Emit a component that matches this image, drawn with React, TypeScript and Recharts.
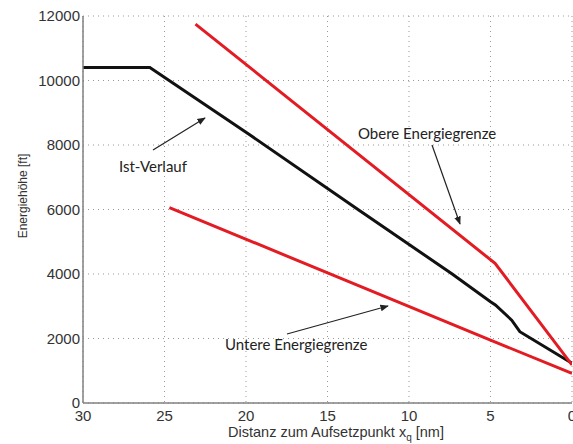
import React from 'react';
import { LineChart, Line, XAxis, YAxis, CartesianGrid } from 'recharts';

// Ist-Verlauf (black)
const istX = [30, 25.9, 19.75, 13.13, 7.35, 5.0, 4.7, 3.7, 3.2, 0];
const istY = [10400, 10400, 8310, 6000, 4000, 3140, 3040, 2570, 2210, 1230];

// Obere Energiegrenze (red, upper)
const obereX = [23.1, 4.72, 0];
const obereY = [11750, 4330, 1180];

// Untere Energiegrenze (red, lower)
const untereX = [24.7, 5.0, 0];
const untereY = [6060, 1950, 920];

const xTicks = [0, 5, 10, 15, 20, 25, 30];
const yTicks = [0, 2000, 4000, 6000, 8000, 10000, 12000];

const toPoints = (xs: number[], ys: number[]) => xs.map((x, i) => ({ x, y: ys[i] }));

const istData = toPoints(istX, istY);
const obereData = toPoints(obereX, obereY);
const untereData = toPoints(untereX, untereY);

const RED = '#e31b23';
const tickStyle = { fontSize: 15, fill: '#333', fontFamily: 'Liberation Sans, Arial, sans-serif' };
const noteFont = 'Lato, sans-serif';

export default function App() {
  return (
    <div style={{ position: 'absolute', left: 0, top: 0, width: 573, height: 444, background: '#fff', overflow: 'hidden' }}>
      <LineChart width={573} height={444} margin={{ top: 16, right: 1, bottom: 11, left: 0 }}>
        <CartesianGrid stroke="#999" strokeDasharray="1 4" />
        <XAxis
          type="number"
          dataKey="x"
          domain={[0, 30]}
          ticks={xTicks}
          interval={0}
          reversed
          height={30}
          tick={tickStyle}
          tickSize={7}
          tickMargin={0}
          tickLine={false}
          stroke="#808080"
          strokeWidth={1.5}
          allowDataOverflow
        />
        <YAxis
          type="number"
          dataKey="y"
          domain={[0, 12000]}
          ticks={yTicks}
          interval={0}
          width={83}
          tick={tickStyle}
          tickSize={3}
          tickMargin={0}
          tickLine={false}
          stroke="#808080"
          strokeWidth={1.5}
        />
        <Line data={istData} dataKey="y" stroke="#111" strokeWidth={3} dot={false} isAnimationActive={false} />
        <Line data={obereData} dataKey="y" stroke={RED} strokeWidth={3} dot={false} isAnimationActive={false} />
        <Line data={untereData} dataKey="y" stroke={RED} strokeWidth={3} dot={false} isAnimationActive={false} />
      </LineChart>
      <svg
        width={573}
        height={444}
        style={{ position: 'absolute', left: 0, top: 0, pointerEvents: 'none' }}
      >
        <defs>
          <marker id="arr" viewBox="0 0 10 10" refX="9" refY="5" markerWidth="7" markerHeight="7" orient="auto">
            <path d="M0,1 L10,5 L0,9 z" fill="#222" />
          </marker>
        </defs>
        {/* annotations */}
        <line x1={153} y1={150} x2={205} y2={118} stroke="#222" strokeWidth={1.2} markerEnd="url(#arr)" />
        <text x={119} y={172} fontSize={15} fontFamily={noteFont} fill="#222">Ist-Verlauf</text>

        <line x1={432} y1={145} x2={460} y2={224} stroke="#222" strokeWidth={1.2} markerEnd="url(#arr)" />
        <text x={358} y={139} fontSize={15} fontFamily={noteFont} fill="#222">Obere Energiegrenze</text>

        <line x1={287} y1={334} x2={388} y2={306} stroke="#222" strokeWidth={1.2} markerEnd="url(#arr)" />
        <text x={225} y={350} fontSize={15} fontFamily={noteFont} fill="#222">Untere Energiegrenze</text>

        {/* axis titles */}
        <text
          x={0}
          y={0}
          transform="translate(27,196) rotate(-90)"
          textAnchor="middle"
          fontSize={12}
          fontFamily="Liberation Sans, Arial, sans-serif"
          fill="#333"
        >
          Energiehöhe [ft]
        </text>
        <text x={336} y={437} textAnchor="middle" fontSize={14.5} fontFamily="Liberation Sans, Arial, sans-serif" fill="#333">
          Distanz zum Aufsetzpunkt x
          <tspan fontSize={10} dy={4}>q</tspan>
          <tspan dy={-4}> [nm]</tspan>
        </text>
      </svg>
    </div>
  );
}
